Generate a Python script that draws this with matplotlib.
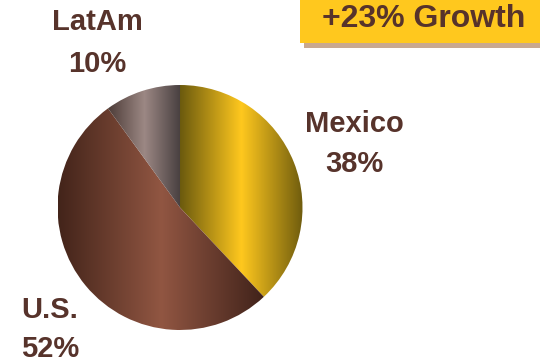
import matplotlib
matplotlib.use("Agg")
import matplotlib.pyplot as plt
import matplotlib.patches as mpatches
from matplotlib.colors import LinearSegmentedColormap
import numpy as np

# ── Data ──────────────────────────────────────────────────────────────────────
REGIONS = ["Mexico", "U.S.", "LatAm"]
SHARES = [38, 52, 10]
HEADLINE = "+23% Growth"

# gradient stops per wedge: edge, middle, edge
GRADIENTS = [
    ["#6b5a0e", "#ffc81e", "#6f5c0e"],
    ["#43241a", "#915642", "#40221a"],
    ["#4d3c38", "#9c8884", "#473f3f"],
]

TEXT_COLOR = "#57332b"
W, H = 540, 363

fig = plt.figure(figsize=(W / 100, H / 100), dpi=100)
ax = fig.add_axes([0, 0, 1, 1])

center = (180, H - 207.5)
radius = 122.5
wedges, _ = ax.pie(SHARES, startangle=90, counterclock=False,
                   center=center, radius=radius,
                   wedgeprops=dict(facecolor="none", edgecolor="none"))

ax.set_xlim(0, W)
ax.set_ylim(0, H)
ax.set_aspect("auto")
ax.axis("off")

for w, stops in zip(wedges, GRADIENTS):
    th = np.radians(np.linspace(w.theta1, w.theta2, 200))
    xs = np.concatenate([[w.center[0]], w.center[0] + w.r * np.cos(th)])
    ys = np.concatenate([[w.center[1]], w.center[1] + w.r * np.sin(th)])
    cmap = LinearSegmentedColormap.from_list("g", stops)
    grad = np.linspace(0, 1, 256).reshape(1, -1)
    im = ax.imshow(grad, cmap=cmap, aspect="auto", interpolation="bilinear",
                   extent=[xs.min(), xs.max(), ys.min(), ys.max()], zorder=2)
    im.set_clip_path(w)

font = dict(family="Liberation Sans", weight="bold", color=TEXT_COLOR)

# labels: (x center, baseline of name, baseline of pct) in px from top
LABEL_POS = {"LatAm": (97, 30, 72), "Mexico": (354, 132, 172), "U.S.": (50, 318, 357)}
for name, share in zip(REGIONS, SHARES):
    x, b1, b2 = LABEL_POS[name]
    ax.text(x, H - b1, name, ha="center", va="baseline", fontsize=21, **font)
    ax.text(x, H - b2, f"{share}%", ha="center", va="baseline", fontsize=21, **font)

# headline box with shadow
ax.add_patch(mpatches.Rectangle((304, H - 48), 260, 48, facecolor="#c9a88e",
                                edgecolor="none", zorder=3))
ax.add_patch(mpatches.Rectangle((300, H - 42.5), 260, 43, facecolor="#ffc81e",
                                edgecolor="none", zorder=4))
ax.text(424, H - 27, HEADLINE, ha="center", va="baseline", zorder=5,
        fontsize=23, **font)

fig.savefig("out.png", dpi=100)
